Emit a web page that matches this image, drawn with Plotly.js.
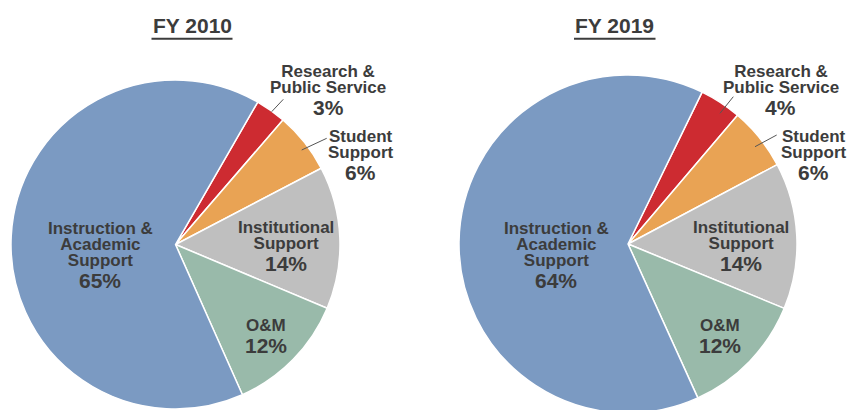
<!DOCTYPE html>
<html>
<head>
<meta charset="utf-8">
<script src="https://cdn.plot.ly/plotly-3.0.1.min.js"></script>
<style>
html,body{margin:0;padding:0;overflow:hidden;background:#fff;}
#chart{width:850px;height:420px;}
</style>
</head>
<body>
<div id="chart"></div>
<script>
// ---- data ----
const categories = ["Research & Public Service", "Student Support", "Institutional Support", "O&M", "Instruction & Academic Support"];
const labelLines = [["Research &", "Public Service"], ["Student", "Support"], ["Institutional", "Support"], ["O&M"], ["Instruction &", "Academic", "Support"]];
const fy2010 = [3, 6, 14, 12, 65];
const fy2019 = [4, 6, 14, 12, 64];
const titles = ["FY 2010", "FY 2019"];

// ---- layout / style ----
const W = 850, H = 420;
const colors = ["#CD2B31", "#E9A354", "#BFBFBF", "#99BAAA", "#7B9AC2"];
const textColor = "#3c3c3c";
const FONT = "Liberation Sans, Arial, sans-serif";
const nameSize = 17, pctSize = 21, titleSize = 21;
const lineStep = 16, pctStep = 22.5;
const px = x => x / W;
const py = y => 1 - y / H;

const pies = [
  { values: fy2010, rotation: 30, dx: [11, 340], dy: [80, 409],
    title: [192, 33.3], underline: [151.5, 232.5, 38.8],
    labels: [[328, 76.7], [360, 141.7], [285.7, 232.7], [266, 330], [100, 233.3]],
    leaders: [[271.7, 111.7, 283.3, 99.3], [301.7, 150, 326.7, 138.3]] },
  { values: fy2019, rotation: 26, dx: [459, 797], dy: [75, 413],
    title: [614.5, 33.3], underline: [574, 655.5, 38.8],
    labels: [[780.8, 76.7], [813.7, 141.7], [740.5, 232.7], [720, 330], [556, 233.3]],
    leaders: [[720, 113.3, 733.3, 96.7], [755, 146.7, 776.7, 135]] }
];

const traces = [];
const annotations = [];
const shapes = [];

pies.forEach((p, k) => {
  traces.push({
    type: "pie",
    labels: categories,
    values: p.values,
    sort: false,
    direction: "clockwise",
    rotation: p.rotation,
    marker: { colors: colors, line: { color: "#ffffff", width: 1.5 } },
    textinfo: "none",
    hoverinfo: "label+percent",
    showlegend: false,
    domain: { x: [px(p.dx[0]), px(p.dx[1])], y: [py(p.dy[1]), py(p.dy[0])] }
  });
  // title
  annotations.push({
    text: titles[k], xref: "paper", yref: "paper",
    x: px(p.title[0]), y: py(p.title[1] - 0.35 * titleSize),
    xanchor: "center", yanchor: "middle", showarrow: false, borderpad: 0,
    font: { family: FONT, size: titleSize, color: textColor, weight: "bold" }
  });
  shapes.push({
    type: "line", xref: "paper", yref: "paper",
    x0: px(p.underline[0]), x1: px(p.underline[1]),
    y0: py(p.underline[2]), y1: py(p.underline[2]),
    line: { color: textColor, width: 2 }
  });
  // slice labels: one tight multi-line block for the name, one for the percent
  categories.forEach((c, i) => {
    const [cx, by] = p.labels[i];
    const lines = labelLines[i];
    const baseSize = lineStep / 1.3;
    annotations.push({
      text: lines.map(l => '<span style="font-size:' + nameSize + 'px">' + l + '</span>').join("<br>"),
      xref: "paper", yref: "paper",
      x: px(cx), y: py(by - 0.905 * nameSize),
      xanchor: "center", yanchor: "top", align: "center", showarrow: false, borderpad: 0,
      font: { family: FONT, size: baseSize, color: textColor, weight: "bold" }
    });
    const pb = by + (lines.length - 1) * lineStep + pctStep;
    annotations.push({
      text: p.values[i] + "%", xref: "paper", yref: "paper",
      x: px(cx), y: py(pb - 0.35 * pctSize),
      xanchor: "center", yanchor: "middle", showarrow: false, borderpad: 0,
      font: { family: FONT, size: pctSize, color: textColor, weight: "bold" }
    });
  });
  p.leaders.forEach(l => {
    shapes.push({
      type: "line", xref: "paper", yref: "paper",
      x0: px(l[0]), y0: py(l[1]), x1: px(l[2]), y1: py(l[3]),
      line: { color: "#555555", width: 1 }
    });
  });
});

const layout = {
  width: W, height: H,
  margin: { l: 0, r: 0, t: 0, b: 0 },
  paper_bgcolor: "#ffffff",
  plot_bgcolor: "#ffffff",
  annotations: annotations,
  shapes: shapes,
  font: { family: FONT }
};

Plotly.newPlot("chart", traces, layout, { displayModeBar: false, staticPlot: true });
</script>
</body>
</html>
